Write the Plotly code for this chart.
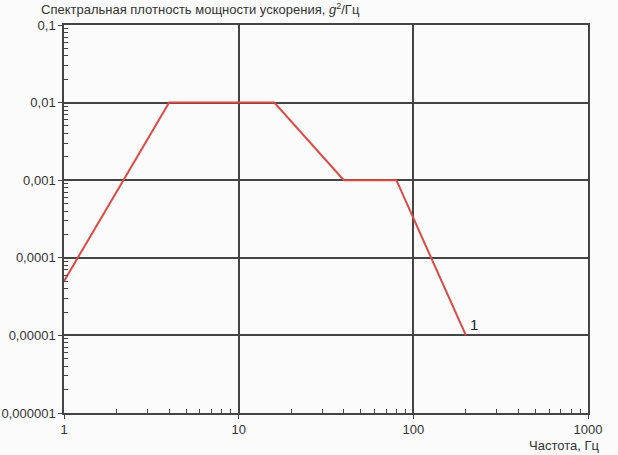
import math
import plotly.graph_objects as go

freq = [1, 4, 16, 40, 80, 200]
psd = [5e-5, 0.01, 0.01, 0.001, 0.001, 1e-5]

x_ticks = [1, 10, 100, 1000]
x_labels = ["1", "10", "100", "1000"]
y_ticks = [1e-6, 1e-5, 1e-4, 1e-3, 1e-2, 1e-1]
y_labels = ["0,000001", "0,00001", "0,0001", "0,001", "0,01", "0,1"]

x_minor = [m * 10 ** d for d in range(0, 3) for m in range(2, 10)]
y_minor = [m * 10.0 ** d for d in range(-6, -1) for m in range(2, 10)]

axis_col = "#444444"
font = dict(family="Liberation Sans, Arial, sans-serif", size=13, color="#333333")

fig = go.Figure()
fig.add_trace(go.Scatter(x=freq, y=psd, mode="lines",
                         line=dict(color="#dc4a44", width=2), showlegend=False))

fig.add_annotation(x=math.log10(freq[-1]), y=math.log10(psd[-1]), xref="x", yref="y",
                   text="1", showarrow=False,
                   xanchor="left", yanchor="bottom", xshift=2, yshift=0,
                   font=dict(family=font["family"], size=15, color="#222222"))

fig.add_annotation(x=0, y=1, xref="paper", yref="paper",
                   text="Спектральная плотность мощности ускорения, <i>g</i><sup>2</sup>/Гц",
                   showarrow=False, xanchor="left", yanchor="bottom", xshift=-25, yshift=6,
                   font=font)
fig.add_annotation(x=1, y=0, xref="paper", yref="paper", text="Частота, Гц",
                   showarrow=False, xanchor="right", yanchor="top", xshift=13, yshift=-23,
                   font=font)

fig.update_xaxes(type="log", range=[0, 3], tickvals=x_ticks, ticktext=x_labels,
                 showgrid=True, gridcolor=axis_col, gridwidth=1.5,
                 showline=True, linecolor=axis_col, linewidth=1.5, mirror=True,
                 ticks="outside", ticklen=4, tickcolor=axis_col, tickfont=font,
                 zeroline=False, automargin=False,
                 minor=dict(tickvals=x_minor, ticks="inside", ticklen=4,
                            tickcolor=axis_col, showgrid=False))
fig.update_yaxes(type="log", range=[-6, -1], tickvals=y_ticks, ticktext=y_labels,
                 showgrid=True, gridcolor=axis_col, gridwidth=1.5,
                 showline=True, linecolor=axis_col, linewidth=1.5, mirror=True,
                 ticks="outside", ticklen=4, tickcolor=axis_col, tickfont=font,
                 zeroline=False, automargin=False,
                 minor=dict(tickvals=y_minor, ticks="inside", ticklen=4,
                            tickcolor=axis_col, showgrid=False))

fig.update_layout(width=618, height=455,
                  margin=dict(l=64, r=30, t=25, b=42),
                  paper_bgcolor="#fbfbfb", plot_bgcolor="#fbfbfb",
                  font=font)

fig.write_html("out.html")
